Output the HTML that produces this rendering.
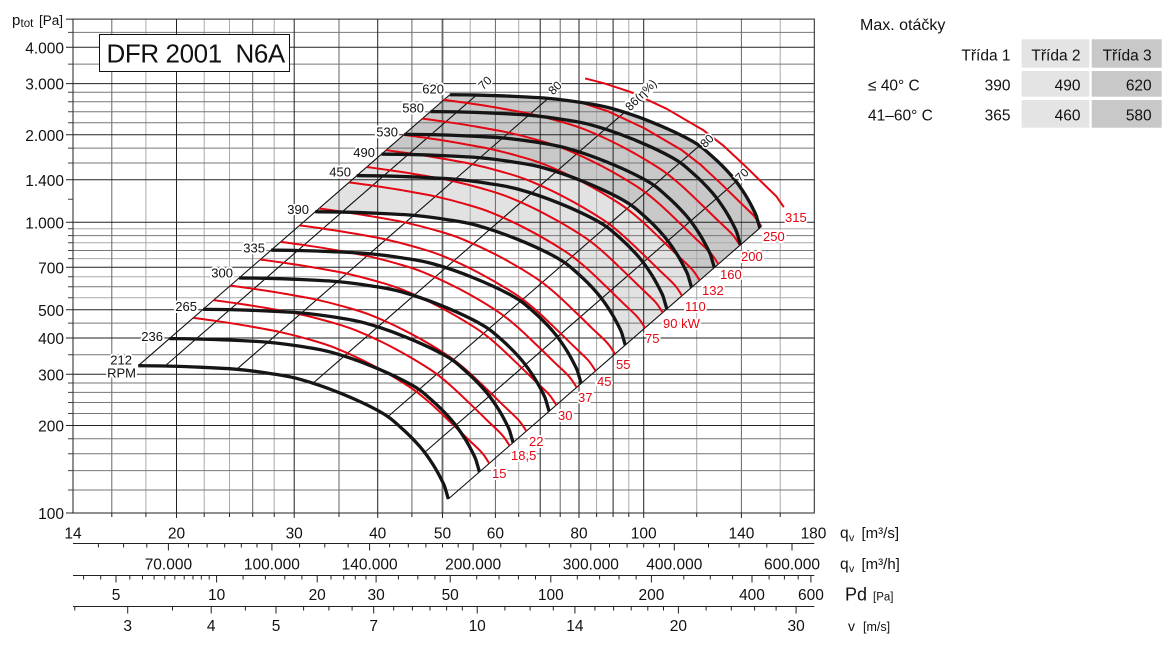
<!DOCTYPE html>
<html><head><meta charset="utf-8">
<style>
html,body{margin:0;padding:0;background:#fff}
svg{display:block}
text{font-family:"Liberation Sans",Arial,sans-serif}
</style></head>
<body>
<svg width="1173" height="650" viewBox="0 0 1173 650" xmlns="http://www.w3.org/2000/svg">
<defs>
<path id="B" d="M138.3,365.7 C142.75,365.75 154.72,365.75 165,366 C175.28,366.25 188.05,366.65 200,367.2 C211.95,367.75 225.03,368.25 236.7,369.3 C248.37,370.35 259.45,371.83 270,373.5 C280.55,375.17 288.33,376.05 300,379.3 C311.67,382.55 326.67,387.6 340,393 C353.33,398.4 370,406.08 380,411.7 C390,417.32 393.33,420.87 400,426.7 C406.67,432.53 414.45,440.32 420,446.7 C425.55,453.08 429.42,458.9 433.3,465 C437.18,471.1 441.18,478.97 443.3,483.3 C445.42,487.63 445.17,488.38 446,491 C446.83,493.62 447.92,497.67 448.3,499"/>
<path id="R" d="M138.3,365.7 C142.19,366.24 152.63,367.56 161.66,368.91 C170.69,370.26 181.95,371.96 192.45,373.77 C202.95,375.58 214.38,377.52 224.67,379.77 C234.96,382.02 244.8,384.58 254.16,387.28 C263.52,389.98 270.32,391.72 280.82,395.99 C291.32,400.26 304.95,406.48 317.14,412.88 C329.33,419.28 344.51,428.25 353.93,434.37 C363.35,440.49 366.92,443.84 373.67,449.61 C380.42,455.38 388.11,462.99 394.4,468.97 C400.69,474.95 406,480.28 411.38,485.5 C416.76,490.72 422.85,496.01 426.66,500.3 C430.47,504.59 432.99,509.39 434.26,511.21"/>
</defs>
<rect width="1173" height="650" fill="#fff"/>

<!-- fills -->
<path fill="#e2e2e2" d="M315.25,211.78 L341.95,212.08 L376.95,213.28 L413.65,215.38 L446.95,219.58 L476.95,225.38 L516.95,239.08 L556.95,257.78 L576.95,272.78 L596.95,292.78 L610.25,311.08 L620.25,329.38 L622.95,337.08 L625.25,345.08 L691.51,287.45 L689.21,279.45 L686.51,271.75 L676.51,253.45 L663.21,235.15 L643.21,215.15 L623.21,200.15 L583.21,181.45 L543.21,167.75 L513.21,161.95 L479.91,157.75 L443.21,155.65 L408.21,154.45 L381.51,154.15 Z"/>
<path fill="#c8c8c8" d="M381.51,154.15 L408.21,154.45 L443.21,155.65 L479.91,157.75 L513.21,161.95 L543.21,167.75 L583.21,181.45 L623.21,200.15 L643.21,215.15 L663.21,235.15 L676.51,253.45 L686.51,271.75 L689.21,279.45 L691.51,287.45 L759.81,228.04 L757.51,220.04 L754.81,212.34 L744.81,194.04 L731.51,175.74 L711.51,155.74 L691.51,140.74 L651.51,122.04 L611.51,108.34 L581.51,102.54 L548.21,98.34 L511.51,96.24 L476.51,95.04 L449.81,94.74 Z"/>

<!-- grid -->
<g fill="none" stroke-width="1">
<path stroke="#aaa" d="M145.9,19V513M204.2,19V513M229.5,19V513M274.2,19V513M470.2,19V513M518.7,19V513M596.6,19V513M628.8,19V513M696.7,19V513M780.2,19V513"/>
<path stroke="#aaa" d="M73,228.8H814.3M73,242.8H814.3M73,258.6H814.3M73,276.7H814.3M73,297.8H814.3"/>
<path stroke="#666" d="M111.8,19V513M252.7,19V513M339,19V513M411.9,19V513M495.4,19V513M560.2,19V513M741.4,19V513"/>
<path stroke="#666" stroke-width="1.8" d="M442.5,19V513"/>
<path stroke="#777" d="M73,32.4H814.3M73,64.1H814.3M73,92.3H814.3M73,101.7H814.3M73,111.8H814.3M73,122.8H814.3M73,148.1H814.3M73,163H814.3M73,235.6H814.3M73,250.5H814.3M73,286.8H814.3M73,323.1H814.3M73,354.8H814.3M73,383H814.3M73,392.4H814.3M73,402.5H814.3M73,413.5H814.3M73,438.8H814.3M73,453.7H814.3M73,470.6H814.3M73,490H814.3"/>
<path stroke="#222" d="M176.5,19V513M294.2,19V513M377.7,19V513M540.2,19V513M579,19V513M613.1,19V513M643.7,19V513"/>
<path stroke="#222" d="M73,47.3H814.3M73,83.6H814.3M73,134.8H814.3M73,179.8H814.3M73,222.3H814.3M73,267.3H814.3M73,309.8H814.3M73,338H814.3M73,374.3H814.3M73,425.5H814.3"/>
<rect x="73" y="19.1" width="741.3" height="493.9" stroke="#222"/>
<!-- left ticks -->
<path stroke="#222" d="M66,47.3H73M66,83.6H73M66,134.8H73M66,179.8H73M66,222.3H73M66,267.3H73M66,309.8H73M66,338H73M66,374.3H73M66,425.5H73M66,513H73M66,19.1H73"/>
<path stroke="#444" d="M68,32.4H73M68,64.1H73M68,92.3H73M68,101.7H73M68,111.8H73M68,122.8H73M68,148.1H73M68,163H73M68,199.3H73M68,228.8H73M68,235.6H73M68,242.8H73M68,250.5H73M68,258.6H73M68,276.7H73M68,286.8H73M68,297.8H73M68,323.1H73M68,354.8H73M68,383H73M68,392.4H73M68,402.5H73M68,413.5H73M68,438.8H73M68,453.7H73M68,470.6H73M68,490H73"/>
<!-- bottom ticks row1 -->
<path stroke="#222" d="M111.8,513V517M145.9,513V517M176.5,513V518M204.2,513V517M229.5,513V517M252.7,513V517M274.2,513V517M294.2,513V518M339,513V517M377.7,513V518M411.9,513V517M442.5,513V518M470.2,513V517M495.4,513V518M518.7,513V517M540.2,513V517M560.2,513V517M579,513V518M596.6,513V517M613.1,513V517M628.8,513V517M643.7,513V518M696.7,513V517M741.4,513V518M780.2,513V517"/>
</g>

<!-- title box -->
<rect x="99.5" y="34.5" width="190" height="37" fill="#fff" stroke="#111" stroke-width="1"/>
<text x="106.5" y="62.5" font-size="26" letter-spacing="-0.4" fill="#111" xml:space="preserve" style="white-space:pre">DFR 2001  N6A</text>

<!-- diagonals -->
<path fill="none" stroke="#111" stroke-width="1.1" d="M138.3,365.7 L449.81,94.74 M165,366 L476.51,95.04 M236.7,369.3 L548.21,98.34 M313.3,383 L624.81,112.04 M387.5,417 L699.01,146.04 M424.5,452.5 L736.01,181.54 M448.3,499 L759.81,228.04"/>

<!-- red power curves -->
<g fill="none" stroke="#e30613" stroke-width="2" stroke-linejoin="round">
<use href="#R" transform="translate(55.01,-47.85)"/>
<use href="#R" transform="translate(75.33,-65.52)"/>
<use href="#R" transform="translate(92.04,-80.06)"/>
<use href="#R" transform="translate(122.05,-106.16)"/>
<use href="#R" transform="translate(142.37,-123.84)"/>
<use href="#R" transform="translate(161.28,-140.29)"/>
<use href="#R" transform="translate(180.73,-157.21)"/>
<use href="#R" transform="translate(210.75,-183.32)"/>
<use href="#R" transform="translate(228.39,-198.66)"/>
<use href="#R" transform="translate(247.78,-215.53)"/>
<use href="#R" transform="translate(265.42,-230.87)"/>
<use href="#R" transform="translate(284.07,-247.1)"/>
<use href="#R" transform="translate(305.66,-265.87)"/>
<path d="M581.15,102.55 L608.07,111.34 L644.39,128.23 L681.18,149.72 L700.92,164.96 L721.65,184.32 L738.63,200.85 L753.91,215.65 L761.51,226.56"/>
<path d="M585.07,78.43 L603.73,83.21 L630.39,91.92 L666.71,108.81 L703.5,130.3 L723.24,145.54 L743.97,164.9 L760.95,181.43 L776.23,196.23 L783.83,207.14"/>
</g>

<!-- white bg for 86 label -->
<g transform="translate(641,95) rotate(-45)"><rect x="-20" y="-6.5" width="40" height="13" fill="#fff"/></g>

<!-- black rpm curves -->
<g fill="none" stroke="#151515" stroke-width="3.3" stroke-linejoin="round" stroke-linecap="butt">
<use href="#B"/>
<use href="#B" transform="translate(31.13,-27.08)"/>
<use href="#B" transform="translate(64.77,-56.34)"/>
<use href="#B" transform="translate(100.79,-87.67)"/>
<use href="#B" transform="translate(132.82,-115.53)"/>
<use href="#B" transform="translate(176.95,-153.92)"/>
<use href="#B" transform="translate(218.49,-190.05)"/>
<use href="#B" transform="translate(243.21,-211.55)"/>
<use href="#B" transform="translate(265.98,-231.36)"/>
<use href="#B" transform="translate(292.16,-254.13)"/>
<use href="#B" transform="translate(311.51,-270.96)"/>
</g>

<!-- RPM labels -->
<g font-size="13" fill="#111" text-anchor="end" stroke="#fff" stroke-width="4" paint-order="stroke" stroke-linejoin="round">
<text x="132" y="364.5">212</text>
<text x="136" y="377.5">RPM</text>
<text x="163" y="341">236</text>
<text x="197" y="311">265</text>
<text x="233" y="277.5">300</text>
<text x="265" y="252.5">335</text>
<text x="309" y="214">390</text>
<text x="351" y="176.5">450</text>
<text x="375" y="157">490</text>
<text x="398" y="136.5">530</text>
<text x="424" y="112.5">580</text>
<text x="444" y="93.5">620</text>
</g>

<!-- red labels -->
<g font-size="13" fill="#e30613" stroke="#fff" stroke-width="4" paint-order="stroke" stroke-linejoin="round">
<text x="492" y="478">15</text>
<text x="511" y="460">18,5</text>
<text x="529" y="446">22</text>
<text x="558" y="420">30</text>
<text x="578" y="402">37</text>
<text x="597" y="386">45</text>
<text x="616" y="369">55</text>
<text x="645" y="343">75</text>
<text x="663" y="328">90 kW</text>
<text x="685" y="311">110</text>
<text x="702" y="295">132</text>
<text x="720" y="279">160</text>
<text x="741" y="261">200</text>
<text x="763" y="241">250</text>
<text x="785" y="222">315</text>
</g>

<!-- efficiency labels -->
<g font-size="12" fill="#111" text-anchor="middle">
<g transform="translate(485,83) rotate(-45)"><text x="0" y="4" stroke="#fff" stroke-width="3" paint-order="stroke">70</text></g>
<g transform="translate(555,88) rotate(-45)"><text x="0" y="4" stroke="#fff" stroke-width="3" paint-order="stroke">80</text></g>
<g transform="translate(641,95) rotate(-45)"><text x="0" y="4">86(η%)</text></g>
<g transform="translate(707,141) rotate(-45)"><text x="0" y="4" stroke="#fff" stroke-width="3" paint-order="stroke">80</text></g>
<g transform="translate(742,175) rotate(-45)"><text x="0" y="4" stroke="#fff" stroke-width="3" paint-order="stroke">70</text></g>
</g>

<!-- y axis labels -->
<text x="12" y="25" font-size="15" fill="#111">p</text>
<text x="20.5" y="27" font-size="11.5" fill="#111">tot</text>
<text x="39" y="25" font-size="13.5" fill="#111">[Pa]</text>
<g font-size="15.5" fill="#111" text-anchor="end">
<text x="64" y="53.3">4.000</text>
<text x="64" y="89.6">3.000</text>
<text x="64" y="140.8">2.000</text>
<text x="64" y="185.8">1.400</text>
<text x="64" y="228.3">1.000</text>
<text x="64" y="273.3">700</text>
<text x="64" y="315.8">500</text>
<text x="64" y="344">400</text>
<text x="64" y="380.3">300</text>
<text x="64" y="431.5">200</text>
<text x="64" y="519">100</text>
</g>

<!-- bottom scales -->
<g fill="none" stroke="#222" stroke-width="1">
<path d="M73,543.5H814.3M73,575.5H814.3M73,606.5H814.3"/>
<path d="M168.4,543.5v7M271.9,543.5v7M369.6,543.5v7M473.1,543.5v7M590.8,543.5v7M674.3,543.5v7M792,543.5v7"/>
<path d="M98.4,543.5v4M123.6,543.5v4M146.8,543.5v4M188.4,543.5v4M207.1,543.5v4M224.7,543.5v4M241.3,543.5v4M257,543.5v4M299.6,543.5v4M324.8,543.5v4M348.1,543.5v4M389.6,543.5v4M408.3,543.5v4M425.9,543.5v4M442.5,543.5v4M458.2,543.5v4M500.8,543.5v4M526,543.5v4M549.3,543.5v4M570.8,543.5v4M609.5,543.5v4M627.1,543.5v4M643.7,543.5v4M659.4,543.5v4M708.5,543.5v4M739.1,543.5v4M766.8,543.5v4"/>
<path d="M116,575.5v7M216.6,575.5v7M317.2,575.5v7M376.1,575.5v7M450.2,575.5v7M550.8,575.5v7M651.4,575.5v7M752,575.5v7M810.9,575.5v7"/>
<path d="M83.6,575.5v4M100.7,575.5v4M129.8,575.5v4M142.5,575.5v4M154.1,575.5v4M164.8,575.5v4M174.8,575.5v4M184.2,575.5v4M193,575.5v4M201.3,575.5v4M209.2,575.5v4M243.1,575.5v4M265.4,575.5v4M284.8,575.5v4M301.9,575.5v4M331,575.5v4M343.7,575.5v4M355.3,575.5v4M366,575.5v4M398.4,575.5v4M417.8,575.5v4M434.9,575.5v4M476.7,575.5v4M499,575.5v4M518.4,575.5v4M535.5,575.5v4M577.3,575.5v4M599.6,575.5v4M619,575.5v4M636.1,575.5v4M683.8,575.5v4M710.3,575.5v4M732.6,575.5v4M769.1,575.5v4M784.4,575.5v4M798.2,575.5v4"/>
<path d="M127.7,606.5v7M211.2,606.5v7M276,606.5v7M373.7,606.5v7M477.2,606.5v7M574.9,606.5v7M678.4,606.5v7M796.1,606.5v7"/>
<path d="M74.8,606.5v4M172.5,606.5v4M245.4,606.5v4M303.6,606.5v4M328.9,606.5v4M352.1,606.5v4M393.7,606.5v4M412.4,606.5v4M430,606.5v4M446.6,606.5v4M462.3,606.5v4M504.9,606.5v4M530.1,606.5v4M553.3,606.5v4M594.9,606.5v4M613.6,606.5v4M631.2,606.5v4M647.8,606.5v4M663.5,606.5v4M706.1,606.5v4M731.3,606.5v4M754.6,606.5v4M776.1,606.5v4"/>
</g>
<g font-size="15.5" fill="#111" text-anchor="middle">
<text x="73" y="538.3">14</text>
<text x="176.5" y="538.3">20</text>
<text x="294.2" y="538.3">30</text>
<text x="377.7" y="538.3">40</text>
<text x="442.5" y="538.3">50</text>
<text x="495.4" y="538.3">60</text>
<text x="579" y="538.3">80</text>
<text x="643.7" y="538.3">100</text>
<text x="741.4" y="538.3">140</text>
<text x="813.5" y="538.3">180</text>
<text x="168.4" y="569.3">70.000</text>
<text x="271.9" y="569.3">100.000</text>
<text x="369.6" y="569.3">140.000</text>
<text x="473.1" y="569.3">200.000</text>
<text x="590.8" y="569.3">300.000</text>
<text x="674.3" y="569.3">400.000</text>
<text x="792" y="569.3">600.000</text>
<text x="116" y="600">5</text>
<text x="216.6" y="600">10</text>
<text x="317.2" y="600">20</text>
<text x="376.1" y="600">30</text>
<text x="450.2" y="600">50</text>
<text x="550.8" y="600">100</text>
<text x="651.4" y="600">200</text>
<text x="752" y="600">400</text>
<text x="810.9" y="600">600</text>
<text x="127.7" y="631">3</text>
<text x="211.2" y="631">4</text>
<text x="276" y="631">5</text>
<text x="373.7" y="631">7</text>
<text x="477.2" y="631">10</text>
<text x="574.9" y="631">14</text>
<text x="678.4" y="631">20</text>
<text x="796.1" y="631">30</text>
</g>
<g fill="#111">
<text x="840" y="538" font-size="15.5">q</text><text x="849" y="541" font-size="10.5">v</text><text x="861.5" y="538" font-size="15">[m³/s]</text>
<text x="840" y="569" font-size="15.5">q</text><text x="849" y="572" font-size="10.5">v</text><text x="861.5" y="569" font-size="15">[m³/h]</text>
<text x="845" y="600.5" font-size="18">Pd</text><text x="873" y="600.5" font-size="11.5">[Pa]</text>
<text x="848" y="631" font-size="14">v</text><text x="863" y="631" font-size="12.5">[m/s]</text>
</g>

<!-- table -->
<rect x="1021.7" y="39.3" width="67.6" height="28.4" fill="#e4e4e4"/>
<rect x="1091.7" y="39.3" width="70" height="28.4" fill="#c8c8c8"/>
<rect x="1021.7" y="71" width="67.6" height="25.7" fill="#e4e4e4"/>
<rect x="1091.7" y="71" width="70" height="25.7" fill="#c8c8c8"/>
<rect x="1021.7" y="100" width="67.6" height="27.7" fill="#e4e4e4"/>
<rect x="1091.7" y="100" width="70" height="27.7" fill="#c8c8c8"/>
<g fill="#111" font-size="15.5">
<text x="860" y="30" font-size="16">Max. otáčky</text>
<text x="1010.5" y="60.5" text-anchor="end">Třída 1</text>
<text x="1080.5" y="60.5" text-anchor="end">Třída 2</text>
<text x="1151.7" y="60.5" text-anchor="end">Třída 3</text>
<text x="868" y="90.5">≤ 40° C</text>
<text x="1010.5" y="90.5" text-anchor="end">390</text>
<text x="1080.5" y="90.5" text-anchor="end">490</text>
<text x="1151.7" y="90.5" text-anchor="end">620</text>
<text x="868" y="120.5">41–60° C</text>
<text x="1010.5" y="120.5" text-anchor="end">365</text>
<text x="1080.5" y="120.5" text-anchor="end">460</text>
<text x="1151.7" y="120.5" text-anchor="end">580</text>
</g>
</svg>
</body></html>
